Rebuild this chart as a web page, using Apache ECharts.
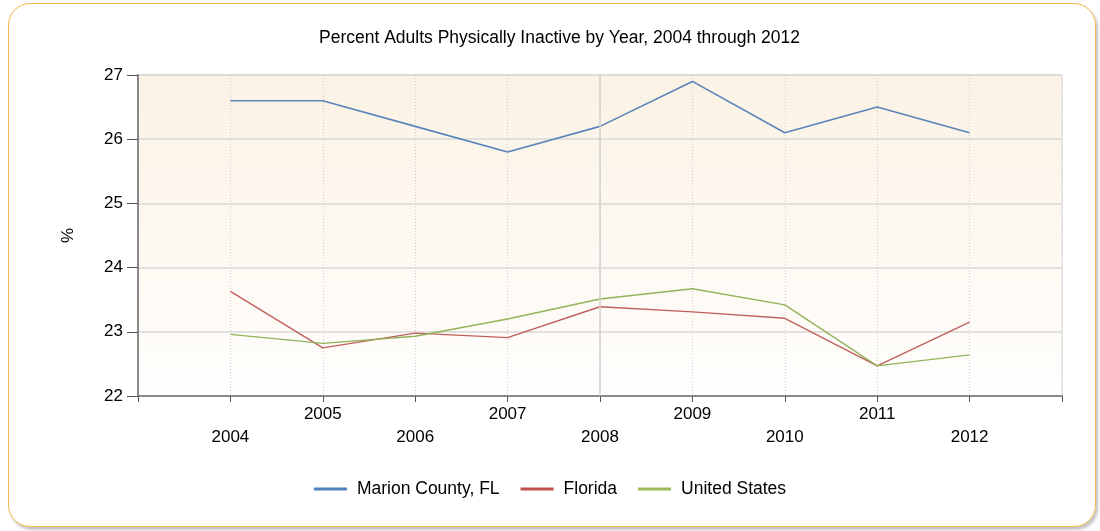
<!DOCTYPE html>
<html>
  <head>
    <meta charset="utf-8" />
    <title>Percent Adults Physically Inactive by Year</title>
    <script src="https://cdn.jsdelivr.net/npm/echarts@6/dist/echarts.min.js"></script>
    <style>
      body { margin: 0; background: #ffffff; }
      #frame {
        position: absolute; left: 8px; top: 3px; width: 1086px; height: 522px;
        border: 1.5px solid #f3b94a; border-radius: 22px;
        box-shadow: 2px 3px 3px rgba(120, 120, 120, 0.45);
      }
      #main { position: absolute; left: 0; top: 0; width: 1100px; height: 531px; }
    </style>
  </head>
  <body>
    <div id="frame"></div>
    <div id="main"></div>

    <script type="text/javascript">
      // values
      var years = [2004, 2005, 2006, 2007, 2008, 2009, 2010, 2011, 2012];
      var marion = [26.6, 26.6, 26.2, 25.8, 26.2, 26.9, 26.1, 26.5, 26.1];
      var florida = [23.63, 22.75, 22.98, 22.91, 23.39, 23.31, 23.21, 22.47, 23.15];
      var usa = [22.96, 22.82, 22.93, 23.2, 23.51, 23.67, 23.42, 22.47, 22.64];

      var font = "'Liberation Sans', Arial, sans-serif";

      function pairs(vals) {
        return years.map(function (y, i) { return [y, vals[i]]; });
      }

      var chart = echarts.init(document.getElementById("main"));

      var option = {
        animation: false,
        title: {
          text: "Percent Adults Physically Inactive by Year, 2004 through 2012",
          left: 314,
          top: 24,
          textStyle: { fontSize: 17.5, fontWeight: "normal", color: "#000000", fontFamily: font },
        },
        legend: {
          bottom: 28,
          left: "center",
          icon: "rect",
          itemWidth: 33,
          itemHeight: 3,
          itemGap: 21,
          data: ["Marion County, FL", "Florida", "United States"],
          textStyle: { fontSize: 17.5, color: "#000000", fontFamily: font, padding: [0, 0, 0, 5] },
        },
        grid: {
          left: 138,
          right: 38,
          top: 75,
          bottom: 135,
          show: true,
          borderColor: "#d8d8d8",
          borderWidth: 1,
          backgroundColor: {
            type: "linear", x: 0, y: 0, x2: 0, y2: 1,
            colorStops: [
              { offset: 0, color: "#fbf2e4" },
              { offset: 1, color: "#fffefd" },
            ],
          },
        },
        xAxis: {
          type: "value",
          min: 2003,
          max: 2013,
          interval: 1,
          axisLine: { show: true, onZero: false, lineStyle: { color: "#8a8a8a", width: 2 } },
          axisTick: { show: true, length: 6, lineStyle: { color: "#555555" } },
          axisLabel: {
            fontSize: 17,
            color: "#000000",
            fontFamily: font,
            margin: 7,
            lineHeight: 23,
            formatter: function (v) {
              if (v < 2004 || v > 2012) return "";
              return v % 2 === 0 ? "\n" + v : String(v);
            },
          },
          splitLine: {
            show: true,
            lineStyle: { color: "#cfcfcf", type: [1, 2], width: 1 },
          },
        },
        yAxis: {
          type: "value",
          min: 22,
          max: 27,
          interval: 1,
          name: "%",
          nameLocation: "middle",
          nameGap: 61,
          nameTextStyle: { fontSize: 17, color: "#000000", fontFamily: font },
          axisLine: { show: true, lineStyle: { color: "#8a8a8a", width: 2 } },
          axisTick: { show: true, length: 11, lineStyle: { color: "#555555" } },
          axisLabel: { fontSize: 17, color: "#000000", fontFamily: font, margin: 15 },
          splitLine: { show: true, lineStyle: { color: "#d8d8d8", width: 1.5 } },
        },
        series: [
          {
            name: "grid2008",
            type: "line",
            data: [],
            silent: true,
            z: 1,
            markLine: {
              silent: true,
              symbol: "none",
              label: { show: false },
              lineStyle: { color: "#d0d0d0", type: "solid", width: 1.5 },
              data: [{ xAxis: 2008 }],
            },
          },
          {
            name: "Marion County, FL",
            type: "line",
            data: pairs(marion),
            symbol: "none",
            lineStyle: { color: "#5a84ba", width: 1.6 },
            itemStyle: { color: "#4f81bd" },
          },
          {
            name: "Florida",
            type: "line",
            data: pairs(florida),
            symbol: "none",
            lineStyle: { color: "#c0605d", width: 1.4 },
            itemStyle: { color: "#c0504d" },
          },
          {
            name: "United States",
            type: "line",
            data: pairs(usa),
            symbol: "none",
            lineStyle: { color: "#93b35a", width: 1.4 },
            itemStyle: { color: "#9bbb59" },
          },
        ],
      };

      chart.setOption(option);
    </script>
  </body>
</html>
